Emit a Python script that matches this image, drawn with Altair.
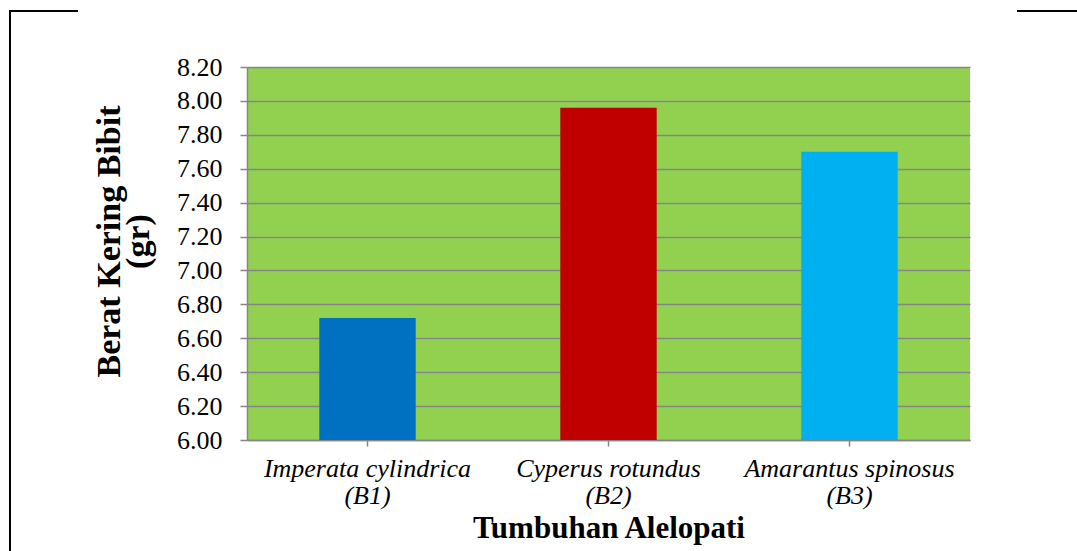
import altair as alt
import pandas as pd

# Dry seedling weight per allelopathic plant treatment
species = ["Imperata cylindrica", "Cyperus rotundus", "Amarantus spinosus"]
codes = ["(B1)", "(B2)", "(B3)"]
weights = [6.72, 7.96, 7.70]
bar_colors = ["#0070C0", "#C00000", "#00B0F0"]
y_ticks = [6.00, 6.20, 6.40, 6.60, 6.80, 7.00, 7.20, 7.40, 7.60, 7.80, 8.00, 8.20]
y_min, y_max = 6.00, 8.20

labels = [f"{s}|{c}" for s, c in zip(species, codes)]
df = pd.DataFrame({"label": labels, "weight": weights, "base": [y_min] * len(labels)})

W, H = 723, 373
LEFT, TOP, RIGHT, BOTTOM = 247, 67, 107, 111
FONT = "Liberation Serif"
GRID = "#868686"

bars = alt.Chart(df).mark_bar().encode(
    x=alt.X(
        "label:N",
        sort=labels,
        scale=alt.Scale(paddingInner=0.6, paddingOuter=0.3),
        axis=alt.Axis(
            title="Tumbuhan Alelopati",
            labelExpr="split(datum.label, '|')",
            labelAngle=0,
            labelFontSize=26,
            labelFontStyle="italic",
            labelLineHeight=27,
            labelPadding=9,
            labelLimit=0,
            tickSize=6,
            grid=False,
            titleFontSize=31,
            titlePadding=5,
        ),
    ),
    y=alt.Y(
        "weight:Q",
        scale=alt.Scale(domain=[y_min, y_max], zero=False, nice=False),
        axis=alt.Axis(
            values=y_ticks,
            format=".2f",
            title=["Berat Kering Bibit", "(gr)"],
            labelFontSize=26,
            labelPadding=18,
            tickSize=7,
            grid=True,
            titleFontSize=34,
            titlePadding=21,
            titleLineHeight=29,
            titleY=174,
        ),
    ),
    y2="base",
    color=alt.Color("label:N", scale=alt.Scale(domain=labels, range=bar_colors), legend=None),
)

# Page frame lines around the figure
anchor = pd.DataFrame({"k": [0]})
frame_left = alt.Chart(anchor).mark_rule(color="black", strokeWidth=2).encode(
    x=alt.value(10 - LEFT), x2=alt.value(10 - LEFT),
    y=alt.value(11 - TOP), y2=alt.value(560 - TOP),
)
frame_top_left = alt.Chart(anchor).mark_rule(color="black", strokeWidth=2).encode(
    x=alt.value(9 - LEFT), x2=alt.value(78 - LEFT),
    y=alt.value(11 - TOP), y2=alt.value(11 - TOP),
)
frame_top_right = alt.Chart(anchor).mark_rule(color="black", strokeWidth=2).encode(
    x=alt.value(1017 - LEFT), x2=alt.value(1080 - LEFT),
    y=alt.value(11 - TOP), y2=alt.value(11 - TOP),
)

chart = alt.layer(bars, frame_left, frame_top_left, frame_top_right).properties(
    width=W,
    height=H,
    autosize=alt.AutoSizeParams(type="none"),
    padding={"left": LEFT, "top": TOP, "right": RIGHT, "bottom": BOTTOM},
    background="white",
).configure(
    font=FONT,
).configure_axis(
    labelFont=FONT,
    labelColor="black",
    titleFont=FONT,
    titleFontWeight="bold",
    titleColor="black",
    tickColor=GRID,
    tickWidth=1.5,
    domainColor=GRID,
    domainWidth=1.5,
    gridColor=GRID,
    gridWidth=1.5,
).configure_view(fill="#92D050", strokeWidth=0)

chart.save("out.html", embed_options={"renderer": "svg", "actions": False})
